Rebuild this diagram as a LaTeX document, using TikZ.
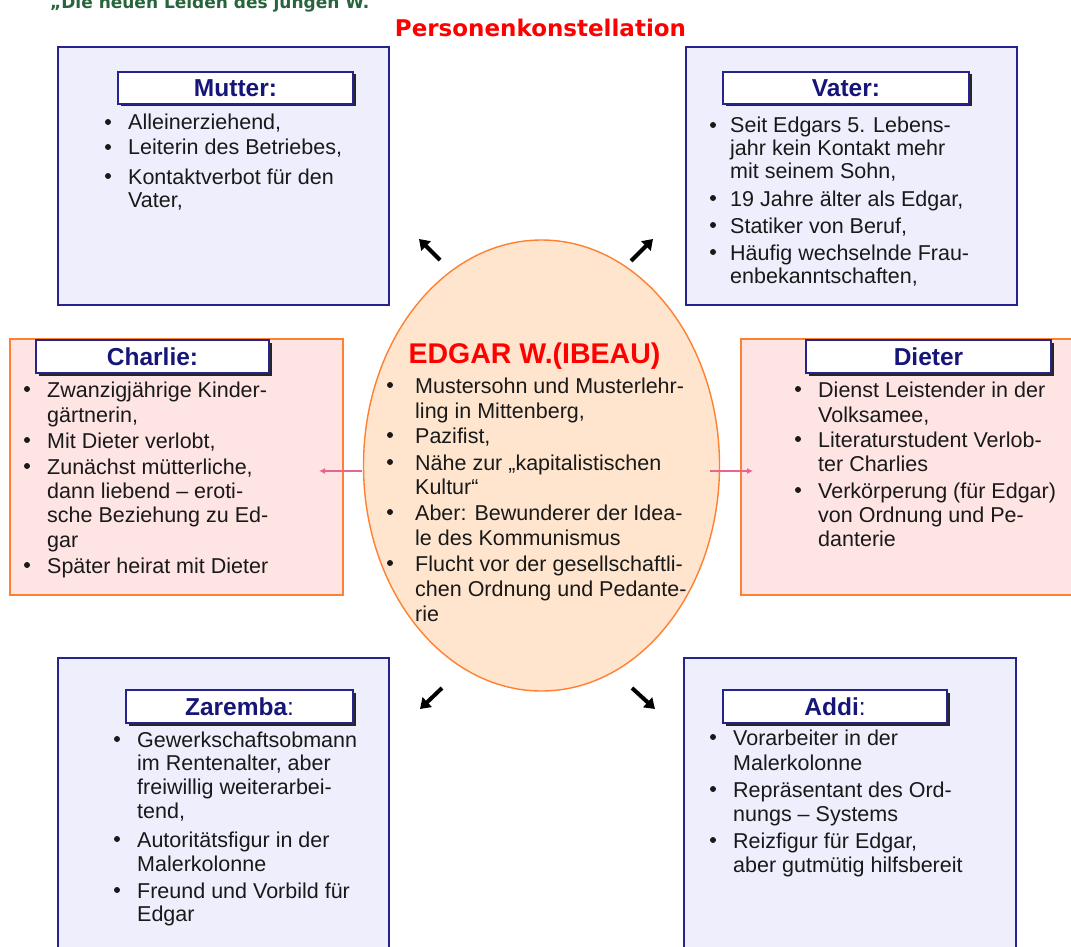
\documentclass[tikz,border=0pt]{standalone}
\usepackage{fontspec}
\setmainfont{Liberation Sans}
\newfontfamily\dvfont{DejaVu Sans}
\usetikzlibrary{shapes.geometric,shadows,arrows.meta}
\definecolor{lav}{RGB}{238,238,253}
\definecolor{navyb}{RGB}{36,36,140}
\definecolor{navyt}{RGB}{22,22,120}
\definecolor{pinkf}{RGB}{255,228,228}
\definecolor{orng}{RGB}{255,128,48}
\definecolor{peach}{RGB}{255,229,206}
\definecolor{pinkar}{RGB}{232,100,145}
\definecolor{grn}{RGB}{40,100,60}
\newcommand\Ln[1]{\hbox{#1}}
\newcommand\Itm[6][24.5]{%
  \node[itemtxt] (#2) at (#4,#5) {\vtop{\baselineskip=#1pt #6}};
  \fill[black!90] (#3,#5-8) circle[radius=3pt];}
\begin{document}
\begin{tikzpicture}[x=1pt,y=-1pt,
  itemtxt/.style={anchor=base west, inner sep=0pt, font=\fontsize{21.5}{24.5}\selectfont, text=black!90},
  bluebox/.style={draw=navyb, fill=lav, line width=1.6pt, anchor=north west, inner sep=0pt, outer sep=0pt},
  pinkbox/.style={draw=orng, fill=pinkf, line width=1.6pt, anchor=north west, inner sep=0pt, outer sep=0pt},
  hdr/.style={draw=navyb, fill=white, line width=1.8pt, font=\fontsize{24.5}{28}\selectfont\bfseries, text=navyt, text height=17pt, text depth=0pt, inner sep=0pt,
    drop shadow={shadow xshift=2.5pt, shadow yshift=-2.5pt, fill=black!85, opacity=1}},
  blk/.style={line width=4pt, black, -{Triangle[length=10pt,width=13pt]}},
  pinkarr/.style={draw=pinkar, line width=2.4pt, -{Latex[length=6pt,width=6pt]}}
]
\useasboundingbox (0,0) rectangle (1071,947);
\clip (0,0) rectangle (1071,947);
\fill[white] (0,0) rectangle (1071,947);

% titles
\node[anchor=base west, inner sep=0pt, font=\dvfont\bfseries\fontsize{17}{20}\selectfont, text=grn] (toptitle) at (50,9) {„Die neuen Leiden des jungen W.};
\node[anchor=base, inner sep=0pt, font=\dvfont\bfseries\fontsize{23}{26}\selectfont, text=red] (title) at (540.5,37) {Personenkonstellation};

% boxes
\node[bluebox, minimum width=331pt, minimum height=258pt] (mutter) at (58,47) {};
\node[bluebox, minimum width=331pt, minimum height=258pt] (vater) at (686,47) {};
\node[pinkbox, minimum width=333pt, minimum height=256pt] (charlie) at (10,339) {};
\node[pinkbox, minimum width=345pt, minimum height=256pt] (dieter) at (741,339) {};
\node[bluebox, minimum width=331pt, minimum height=310pt] (zaremba) at (58,658) {};
\node[bluebox, minimum width=332pt, minimum height=310pt] (addi) at (684,658) {};

% ellipse
\node[ellipse, draw=orng, fill=peach, line width=1.4pt, minimum width=356pt, minimum height=451pt, inner sep=0pt] (edgar) at (541.5,465.5) {};

% headers
\node[hdr, minimum width=235pt, minimum height=32pt] (mutterH) at (235.5,88) {Mutter:};
\node[hdr, minimum width=246pt, minimum height=32pt] (vaterH) at (846,88) {Vater:};
\node[hdr, minimum width=233pt, minimum height=33pt] (charlieH) at (152.5,356.5) {Charlie:};
\node[hdr, minimum width=245pt, minimum height=33pt] (dieterH) at (928.5,356.5) {Dieter};
\node[hdr, minimum width=227pt, minimum height=33pt] (zarembaH) at (239.5,706.5) {Zaremba\mdseries:};
\node[hdr, minimum width=224pt, minimum height=33pt] (addiH) at (835,706.5) {Addi\mdseries:};

\node[anchor=base, inner sep=0pt, font=\fontsize{28.5}{32}\selectfont\bfseries, text=red] (edgarT) at (534.5,363) {EDGAR W.(IBEAU)};

% Mutter
\Itm{m1}{108}{128}{130}{\Ln{Alleinerziehend,}}
\Itm{m2}{108}{128}{155}{\Ln{Leiterin des Betriebes,}}
\Itm[23]{m3}{108}{128}{184}{\Ln{Kontaktverbot für den}\Ln{Vater,}}

% Vater
\Itm[22.7]{v1}{713}{730}{133}{\Ln{Seit Edgars 5. Lebens-}\Ln{jahr kein Kontakt mehr}\Ln{mit seinem Sohn,}}
\Itm{v2}{713}{730}{206}{\Ln{19 Jahre älter als Edgar,}}
\Itm{v3}{713}{730}{233}{\Ln{Statiker von Beruf,}}
\Itm[23]{v4}{713}{730}{260}{\Ln{Häufig wechselnde Frau-}\Ln{enbekanntschaften,}}

% Edgar
\Itm[25.5]{e1}{390}{415}{393}{\Ln{Mustersohn und Musterlehr-}\Ln{ling in Mittenberg,}}
\Itm{e2}{390}{415}{443}{\Ln{Pazifist,}}
\Itm{e3}{390}{415}{470}{\Ln{Nähe zur „kapitalistischen}\Ln{Kultur“}}
\Itm[25]{e4}{390}{415}{520}{\Ln{Aber: Bewunderer der Idea-}\Ln{le des Kommunismus}}
\Itm[25]{e5}{390}{415}{571}{\Ln{Flucht vor der gesellschaftli-}\Ln{chen Ordnung und Pedante-}\Ln{rie}}

% Charlie
\Itm[25]{c1}{27}{47}{397}{\Ln{Zwanzigjährige Kinder-}\Ln{gärtnerin,}}
\Itm{c2}{27}{47}{448}{\Ln{Mit Dieter verlobt,}}
\Itm[24.4]{c3}{27}{47}{474}{\Ln{Zunächst mütterliche,}\Ln{dann liebend – eroti-}\Ln{sche Beziehung zu Ed-}\Ln{gar}}
\Itm{c4}{27}{47}{573}{\Ln{Später heirat mit Dieter}}

% Dieter
\Itm[25]{d1}{798}{818}{397}{\Ln{Dienst Leistender in der}\Ln{Volksamee,}}
\Itm{d2}{798}{818}{447}{\Ln{Literaturstudent Verlob-}\Ln{ter Charlies}}
\Itm[24.4]{d3}{798}{818}{498}{\Ln{Verkörperung (für Edgar)}\Ln{von Ordnung und Pe-}\Ln{danterie}}

% Zaremba
\Itm[23.8]{z1}{117}{137}{747}{\Ln{Gewerkschaftsobmann}\Ln{im Rentenalter, aber}\Ln{freiwillig weiterarbei-}\Ln{tend,}}
\Itm[24.7]{z2}{117}{137}{847}{\Ln{Autoritätsfigur in der}\Ln{Malerkolonne}}
\Itm[23.5]{z3}{117}{137}{898}{\Ln{Freund und Vorbild für}\Ln{Edgar}}

% Addi
\Itm[25]{a1}{713}{733}{745}{\Ln{Vorarbeiter in der}\Ln{Malerkolonne}}
\Itm{a2}{713}{733}{797}{\Ln{Repräsentant des Ord-}\Ln{nungs – Systems}}
\Itm{a3}{713}{733}{848}{\Ln{Reizfigur für Edgar,}\Ln{aber gutmütig hilfsbereit}}

% connectors
\coordinate (cl) at (319,471);
\coordinate (cr) at (753,471);
\draw[pinkarr] ([xshift=-1pt]edgar.west |- cl) -- (cl);
\draw[pinkarr] ([xshift=-10pt]edgar.east |- cr) -- (cr);

\coordinate (nwT) at (440,260); \coordinate (nwH) at (419,239);
\coordinate (neT) at (631,261); \coordinate (neH) at (653,239);
\coordinate (swT) at (442,688); \coordinate (swH) at (420,709);
\coordinate (seT) at (632,688); \coordinate (seH) at (655,709);
\draw[blk] (nwT) -- (nwH);
\draw[blk] (neT) -- (neH);
\draw[blk] (swT) -- (swH);
\draw[blk] (seT) -- (seH);
\end{tikzpicture}
\end{document}
